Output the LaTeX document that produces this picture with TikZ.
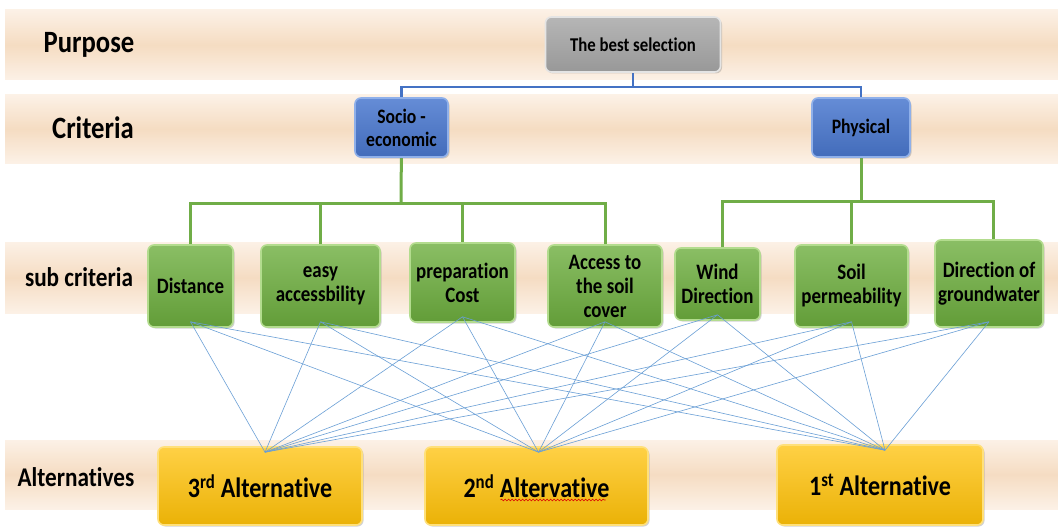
\documentclass[tikz,border=0pt]{standalone}
\usepackage{fontspec}
\setmainfont{Carlito}[FakeStretch=0.86, Ligatures=NoCommon]
\usetikzlibrary{shadows,decorations.pathmorphing}
\definecolor{bandmid}{HTML}{F5DCC2}
\definecolor{bandedge}{HTML}{FCF1E6}
\definecolor{grayface}{HTML}{A9A9A9}
\definecolor{grayrim}{HTML}{E4E4E4}
\definecolor{blueface}{HTML}{4A78CF}
\definecolor{bluerim}{HTML}{8FB0EA}
\definecolor{greenface}{HTML}{6DAE3E}
\definecolor{greenrim}{HTML}{B3DC8E}
\definecolor{yellowface}{HTML}{FFC107}
\definecolor{yellowrim}{HTML}{FFE07A}
\definecolor{bluelink}{HTML}{4472C4}
\definecolor{greenlink}{HTML}{70AD47}
\definecolor{thinlink}{HTML}{6A9FD6}
\tikzset{
  band/.style={top color=bandedge, bottom color=bandedge, middle color=bandmid, draw=none},
  box/.style={rectangle, rounded corners=6pt, line width=1.6pt, align=center,
    font=\bfseries, text=black, inner sep=2pt,
    drop shadow={shadow xshift=1.5pt, shadow yshift=-1.5pt, opacity=0.35}},
  graybox/.style={box, draw=grayrim, top color=grayface!85!white, bottom color=grayface!90!black, font=\bfseries\fontsize{19.5}{22}\selectfont},
  bluebox/.style={box, draw=bluerim, top color=blueface!85!white, bottom color=blueface!90!black, font=\bfseries\fontsize{20.5}{23}\selectfont},
  greenbox/.style={box, draw=greenrim, top color=greenface!80!white, bottom color=greenface!90!black, font=\bfseries\fontsize{22}{24}\selectfont},
  yellowbox/.style={box, draw=yellowrim, top color=yellowface!75!white, bottom color=yellowface!92!black, font=\bfseries\fontsize{28}{30}\selectfont},
  rowlabel/.style={font=\bfseries\fontsize{31}{33}\selectfont, text=black, inner sep=0pt},
  smalllabel/.style={font=\bfseries\fontsize{27}{29}\selectfont, text=black, inner sep=0pt},
  bluecon/.style={draw=bluelink, line width=2.6pt},
  greencon/.style={draw=greenlink, line width=3pt},
  thincon/.style={draw=thinlink, line width=0.6pt},
}
\begin{document}
\begin{tikzpicture}[x=1pt, y=-1pt]
\useasboundingbox (0,0) rectangle (1058,527);
\fill[white] (0,0) rectangle (1058,527);
% bands
\path[band] (5,10) rectangle (1058,80);
\path[band] (5,95) rectangle (1058,163);
\path[band] (5,242) rectangle (1058,313);
\path[band] (5,440) rectangle (1058,509);
% row labels
\node[rowlabel] (lp) at (89,45) {Purpose};
\node[rowlabel] (lc) at (93,128) {Criteria};
\node[smalllabel] (ls) at (79,277) {sub criteria};
\node[smalllabel] (la) at (76,477) {Alternatives};
% junction coordinates
\coordinate (bj) at (633,87);
\coordinate (sj) at (401,203);
\coordinate (pj) at (861,201);
% connectors (behind)
\draw[bluecon] (633,60) -- (bj);
\draw[bluecon] (401.5,110) |- (bj) -| (861,110);
\draw[greencon] (401.5,140) -- (sj);
\draw[greencon] (190.5,260) |- (sj) -| (605,260);
\draw[greencon] (320.5,260) -- (320.5,203);
\draw[greencon] (462.5,260) -- (462.5,203);
\draw[greencon] (861,140) -- (pj);
\draw[greencon] (722,260) |- (pj) -| (993,260);
\draw[greencon] (851.5,260) -- (851.5,201);
% nodes
\node[graybox, minimum width=175pt, minimum height=55pt] (best) at (633,44.5) {The best selection};
\node[bluebox, minimum width=93pt, minimum height=59pt] (socio) at (401.5,127.5) {Socio -\\economic};
\node[bluebox, minimum width=98pt, minimum height=59pt] (phys) at (861,127.5) {Physical};
\node[greenbox, minimum width=85pt, minimum height=82pt] (dist) at (190.5,286) {Distance};
\node[greenbox, minimum width=119pt, minimum height=82pt] (easy) at (320.5,286) {easy\\accessbility};
\node[greenbox, minimum width=105pt, minimum height=79pt] (prep) at (462.5,282.5) {preparation\\Cost};
\node[greenbox, minimum width=114pt, minimum height=82pt] (acc) at (605,286) {Access to\\the soil\\cover};
\node[greenbox, minimum width=85pt, minimum height=72pt] (wind) at (717.5,284) {Wind\\Direction};
\node[greenbox, minimum width=113pt, minimum height=82pt] (soil) at (851.5,286) {Soil\\permeability};
\node[greenbox, minimum width=108pt, minimum height=87pt] (dgw) at (989,283.5) {Direction of\\groundwater};
\node[yellowbox, minimum width=204pt, minimum height=78pt] (alt3) at (260,486) {3\textsuperscript{rd} Alternative};
\node[yellowbox, minimum width=223pt, minimum height=78pt] (alt2) at (536.5,486) {2\textsuperscript{nd} Altervative};
\node[yellowbox, minimum width=206pt, minimum height=80pt] (alt1) at (880,485) {1\textsuperscript{st} Alternative};
% spell-check wave
\draw[red!85!black, line width=0.6pt, decorate, decoration={snake, amplitude=0.9pt, segment length=3.5pt}]
  ([xshift=-36pt,yshift=-14pt]alt2.center) -- ([xshift=69pt,yshift=-14pt]alt2.center);
% thin lines
\foreach \s in {dist,easy,prep,acc,wind,soil,dgw}{
  \foreach \a/\dx in {alt3/5,alt2/2,alt1/5}{
    \draw[thincon] ([yshift=6pt]\s.south) -- ([xshift=\dx pt,yshift=-6pt]\a.north);
  }
}
\end{tikzpicture}
\end{document}
